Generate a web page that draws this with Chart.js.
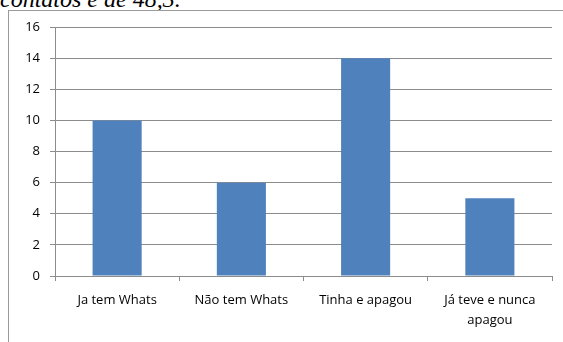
<!DOCTYPE html>
<html lang="pt">
<head>
    <meta charset="UTF-8">
    <title>Whats</title>
    <script src="https://cdn.jsdelivr.net/npm/chart.js"></script>
    <style>
        html, body { margin: 0; padding: 0; width: 563px; height: 342px; overflow: hidden; background: #fff; }
        #topText { position: absolute; left: 0; top: -13px; font: italic 24px/24px "Liberation Serif", serif; color: #000; white-space: nowrap; }
        #frame { position: absolute; left: 8px; top: 10px; width: 600px; height: 400px; border: 1px solid #9a9a9a; }
        #wrap { position: absolute; left: 0; top: 0; width: 563px; height: 342px; }
    </style>
</head>
<body>
    <div id="topText">contatos é de 48,3.</div>
    <div id="frame"></div>
    <div id="wrap"><canvas id="chart"></canvas></div>

    <script>
        const categories = ['Ja tem Whats', 'Não tem Whats', 'Tinha e apagou', ['Já teve e nunca', 'apagou']];
        const values = [10, 6, 14, 5];
        const yTicks = [0, 2, 4, 6, 8, 10, 12, 14, 16];

        const ctx = document.getElementById('chart').getContext('2d');
        new Chart(ctx, {
            type: 'bar',
            data: {
                labels: categories,
                datasets: [{
                    data: values,
                    backgroundColor: '#4f81bd',
                    borderWidth: 0,
                    categoryPercentage: 1,
                    barPercentage: 0.395
                }]
            },
            options: {
                responsive: true,
                maintainAspectRatio: false,
                animation: false,
                events: [],
                layout: { padding: { top: 27, right: 11, left: 0, bottom: 0 } },
                plugins: { legend: { display: false }, tooltip: { enabled: false } },
                scales: {
                    x: {
                        offset: true,
                        grid: { offset: true, drawOnChartArea: false, drawTicks: true, tickLength: 5, color: '#8c8c8c' },
                        border: { color: '#8c8c8c' },
                        ticks: { color: '#000', font: { family: 'Open Sans', size: 13, lineHeight: 1.55 }, padding: 9, maxRotation: 0, autoSkip: false },
                        afterFit: s => { s.height = 66; }
                    },
                    y: {
                        min: 0,
                        max: 16,
                        afterBuildTicks: s => { s.ticks = yTicks.map(v => ({ value: v })); },
                        grid: { color: '#8c8c8c', tickLength: 5 },
                        border: { color: '#8c8c8c' },
                        ticks: { color: '#000', font: { family: 'Open Sans', size: 13 }, padding: 10 },
                        afterFit: s => { s.width = 55; }
                    }
                }
            }
        });
    </script>
</body>
</html>
